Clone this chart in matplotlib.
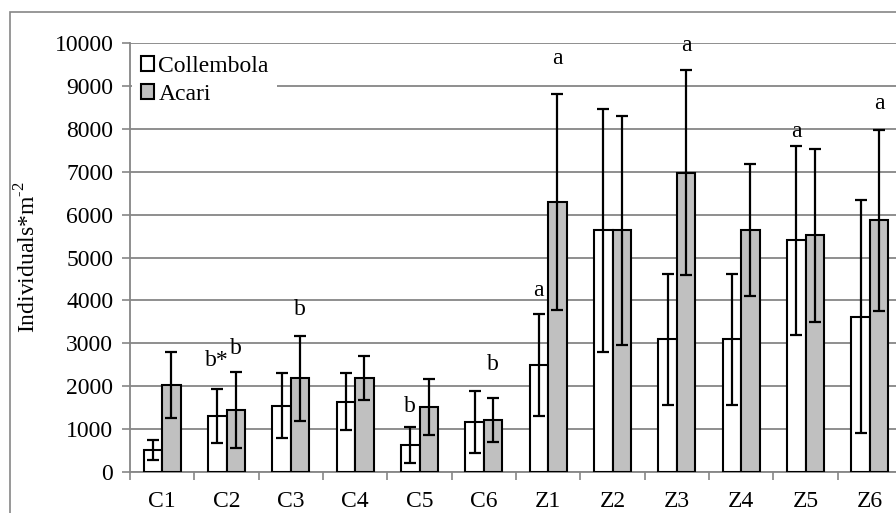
import numpy as np
import matplotlib.pyplot as plt
from matplotlib.patches import Rectangle

plt.rcParams["font.family"] = ["Liberation Serif", "DejaVu Serif"]
plt.rcParams["mathtext.fontset"] = "custom"
plt.rcParams["mathtext.rm"] = "Liberation Serif"

# Data
sites = ["C1", "C2", "C3", "C4", "C5", "C6", "Z1", "Z2", "Z3", "Z4", "Z5", "Z6"]
collembola = [510, 1310, 1550, 1640, 630, 1170, 2490, 5630, 3090, 3090, 5400, 3620]
collembola_err = [230, 630, 750, 670, 420, 720, 1185, 2830, 1535, 1535, 2200, 2710]
acari = [2030, 1450, 2180, 2190, 1520, 1210, 6290, 5630, 6980, 5650, 5520, 5870]
acari_err = [760, 890, 1000, 510, 650, 515, 2520, 2660, 2380, 1540, 2015, 2110]

# Significance letters: (text, site index, series, y)
letter_text = ["b*", "b", "b", "b", "b", "a", "a", "a", "a", "a"]
letter_site = [1, 1, 2, 4, 5, 6, 6, 8, 10, 11]
letter_series = [0, 1, 1, 0, 1, 0, 1, 1, 0, 1]
letter_y = [2610, 2890, 3780, 1520, 2510, 4240, 9650, 9950, 7930, 8580]

grid_col = "#868686"
fs = 17

fig = plt.figure(figsize=(8.96, 5.13), dpi=100)
ax = fig.add_axes([130 / 896, 1 - 472 / 513, 772 / 896, (472 - 43) / 513])

# Outer chart border (cropped on right and bottom)
fig.patches.append(Rectangle((10 / 896, -0.2), 1.5, 1.2 - 12 / 513,
                             transform=fig.transFigure, fill=False,
                             edgecolor=grid_col, lw=1.2))

x = np.arange(len(sites))
w = 0.29
err_kw = dict(ecolor="black", elinewidth=1.6, capsize=4.6, capthick=1.6)
ax.bar(x - w / 2, collembola, w, color="white", edgecolor="black", lw=1.5,
       yerr=collembola_err, error_kw=err_kw, label="Collembola", zorder=3)
ax.bar(x + w / 2, acari, w, color="#c0c0c0", edgecolor="black", lw=1.5,
       yerr=acari_err, error_kw=err_kw, label="Acari", zorder=3)

for t, i, s, y in zip(letter_text, letter_site, letter_series, letter_y):
    xp = x[i] - w / 2 if s == 0 else x[i] + w / 2
    ax.text(xp, y, t, ha="center", va="center", fontsize=fs, zorder=4)

ax.set_xlim(-0.5, len(sites) - 0.5)
ax.set_ylim(0, 10000)
ax.set_yticks(np.arange(0, 10001, 1000))
ax.yaxis.grid(True, color=grid_col, lw=1.3)
ax.set_axisbelow(True)
ax.tick_params(axis="y", labelsize=fs, length=6, width=1.2, color=grid_col, pad=6)

ax.set_xticks(x)
ax.set_xticklabels(sites, fontsize=fs)
ax.set_xticks(np.arange(-0.5, len(sites), 1), minor=True)
ax.tick_params(axis="x", which="major", length=0, pad=14)
ax.tick_params(axis="x", which="minor", length=6, width=1.2, color=grid_col)

for side in ["top", "right"]:
    ax.spines[side].set_visible(False)
for side in ["left", "bottom"]:
    ax.spines[side].set_color(grid_col)
    ax.spines[side].set_linewidth(1.3)

ax.set_ylabel(r"Individuals*m$^{\text{-}2}$", fontsize=fs, labelpad=10)

leg = ax.legend(loc="upper left", bbox_to_anchor=(0.0, 0.995), fontsize=fs,
                frameon=True, facecolor="white", edgecolor="none", framealpha=1,
                handlelength=0.55, handleheight=0.55, handletextpad=0.2,
                labelspacing=0.3, borderpad=0.35, borderaxespad=0.1)
leg.get_frame().set_boxstyle("square", pad=0)
leg.set_zorder(5)

fig.savefig("out.png", dpi=100)
